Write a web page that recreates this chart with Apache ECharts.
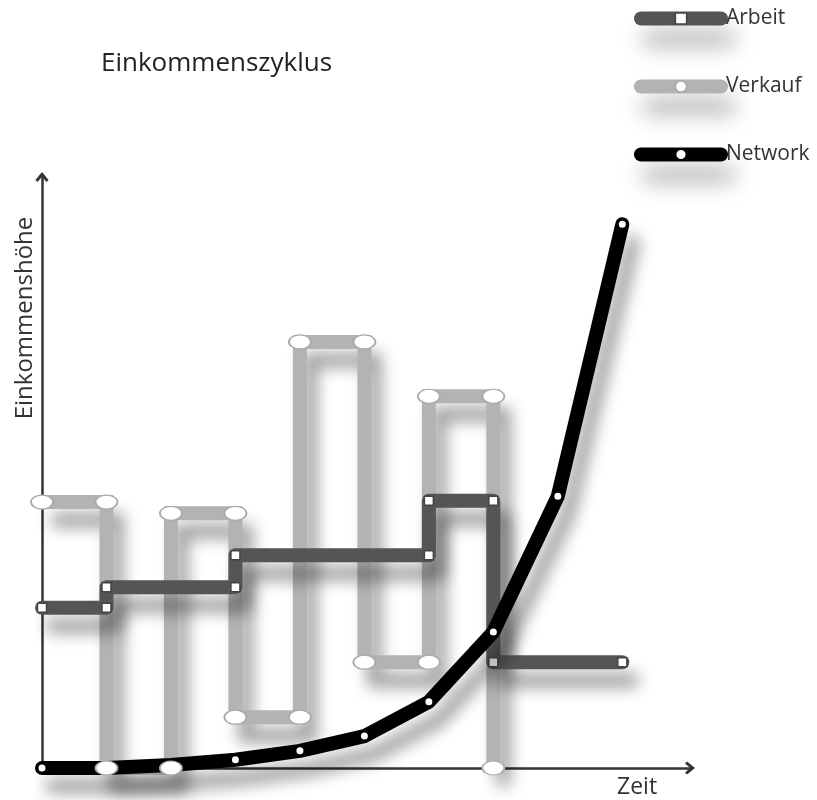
<!DOCTYPE html>
<html>
<head>
<meta charset="utf-8">
<script src="https://cdn.jsdelivr.net/npm/echarts@6/dist/echarts.min.js"></script>
<style>
html, body { margin: 0; padding: 0; background: #fff; }
#chart { width: 817px; height: 800px; }
</style>
</head>
<body>
<div id="chart"></div>
<script>
// Zeitachse: Abschnitte 0..9, Einkommenshöhe 0..100
var arbeitX = [0, 1, 1, 3, 3, 6, 6, 7, 7, 9];
var arbeitY = [27.1, 27.1, 30.6, 30.6, 36.0, 36.0, 45.2, 45.2, 17.9, 17.9];

var verkaufX = [0, 1, 1, 2, 2, 3, 3, 4, 4, 5, 5, 6, 6, 7, 7];
var verkaufY = [45.0, 45.0, 0, 0, 43.1, 43.1, 8.6, 8.6, 72.1, 72.1, 17.9, 17.9, 62.9, 62.9, 0];

var networkX = [0, 1, 2, 3, 4, 5, 6, 7, 8, 9];
var networkY = [0, 0, 0.5, 1.4, 2.9, 5.4, 11.2, 23.0, 46.0, 92.0];

function pairs(xs, ys) {
    return xs.map(function (x, i) { return [x, ys[i]]; });
}

var shadow = {
    shadowBlur: 16,
    shadowColor: 'rgba(0,0,0,0.4)',
    shadowOffsetX: 10,
    shadowOffsetY: 18
};
var arrow = 'path://M5,0 L10,6 L8.4,7.6 L5,3.6 L1.6,7.6 L0,6 Z';

var myChart = echarts.init(document.getElementById('chart'));
myChart.setOption({
    animation: false,
    backgroundColor: '#fff',
    textStyle: { fontFamily: 'Open Sans' },
    title: {
        text: 'Einkommenszyklus',
        left: 96,
        top: 46,
        textStyle: { fontSize: 26, fontWeight: 'normal', color: '#222', fontFamily: 'Open Sans' }
    },
    legend: {
        orient: 'vertical',
        left: 634,
        top: 8,
        padding: 0,
        itemWidth: 80,
        itemHeight: 14,
        itemGap: 47,
        textStyle: { fontSize: 21, color: '#333' },
        lineStyle: { width: 14, cap: 'round', shadowBlur: 22, shadowColor: 'rgba(0,0,0,0.35)', shadowOffsetX: 8, shadowOffsetY: 20 },
        data: [
            { name: 'Arbeit', lineStyle: { color: '#555' }, itemStyle: { color: '#fff', borderColor: '#444', borderWidth: 1.5 } },
            { name: 'Verkauf', lineStyle: { color: '#b3b3b3' }, itemStyle: { color: '#fff', borderColor: '#aaa', borderWidth: 1.5 } },
            { name: 'Network', lineStyle: { color: '#000' }, itemStyle: { color: '#fff', borderColor: '#000', borderWidth: 2 } }
        ]
    },
    grid: { left: 42, right: 127, top: 177, bottom: 32 },
    xAxis: {
        type: 'value',
        min: 0,
        max: 10.05,
        name: 'Zeit',
        nameLocation: 'end',
        nameGap: -73,
        nameTextStyle: { fontSize: 23, color: '#333', verticalAlign: 'top', padding: [8, 0, 0, 0] },
        axisLine: { lineStyle: { color: '#333', width: 2.5 }, symbol: ['none', arrow], symbolSize: [14, 10] },
        axisTick: { show: false },
        axisLabel: { show: false },
        splitLine: { show: false }
    },
    yAxis: {
        type: 'value',
        min: 0,
        max: 100,
        axisLine: { show: true, lineStyle: { color: '#333', width: 2.5 }, symbol: ['none', arrow], symbolSize: [14, 10] },
        axisTick: { show: false },
        axisLabel: { show: false },
        splitLine: { show: false }
    },
    graphic: [{
        type: 'text',
        x: 25,
        y: 318,
        rotation: Math.PI / 2,
        style: {
            text: 'Einkommenshöhe',
            fontSize: 24,
            fontFamily: 'Open Sans',
            fill: '#333',
            align: 'center',
            verticalAlign: 'middle'
        }
    }],
    series: [
        {
            name: 'Arbeit',
            type: 'line',
            z: 3,
            clip: false,
            data: pairs(arbeitX, arbeitY),
            symbol: 'rect',
            symbolSize: 9,
            lineStyle: Object.assign({ color: '#555', width: 14, cap: 'round', join: 'round' }, shadow),
            itemStyle: { color: '#fff', borderColor: '#444', borderWidth: 1.5 }
        },
        {
            name: 'Verkauf',
            type: 'line',
            z: 2,
            clip: false,
            data: pairs(verkaufX, verkaufY),
            symbol: 'circle',
            showSymbol: false,
            lineStyle: Object.assign({ color: '#b3b3b3', width: 14, cap: 'butt', join: 'miter' }, shadow),
            itemStyle: { color: '#fff', borderColor: '#aaa', borderWidth: 1.5 }
        },
        {
            name: 'Network',
            type: 'line',
            z: 4,
            clip: false,
            data: pairs(networkX, networkY),
            symbol: 'circle',
            symbolSize: 9,
            lineStyle: Object.assign({ color: '#000', width: 14, cap: 'round', join: 'round' }, shadow),
            itemStyle: { color: '#fff', borderColor: '#000', borderWidth: 2 }
        },
        {
            name: 'Verkauf',
            type: 'scatter',
            z: 5,
            clip: false,
            data: pairs(verkaufX, verkaufY),
            symbol: 'circle',
            symbolSize: [22, 14],
            itemStyle: { color: '#fff', borderColor: '#aaa', borderWidth: 1.5, opacity: 1 }
        }
    ]
});
</script>
</body>
</html>
